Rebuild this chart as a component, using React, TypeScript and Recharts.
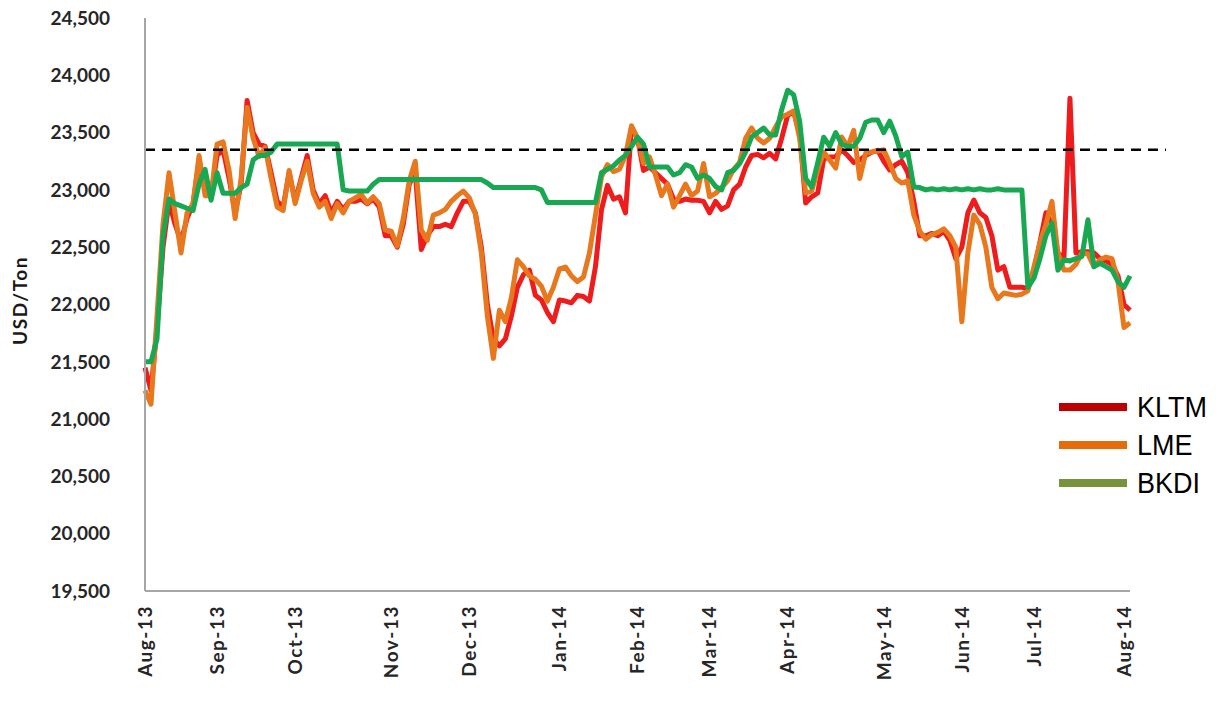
import React from 'react';
import { LineChart, Line, XAxis, YAxis, ReferenceLine } from 'recharts';

// Month labels on the category axis and the point index where each sits
const monthLabels = ['Aug-13', 'Sep-13', 'Oct-13', 'Nov-13', 'Dec-13', 'Jan-14', 'Feb-14', 'Mar-14', 'Apr-14', 'May-14', 'Jun-14', 'Jul-14', 'Aug-14'];
const monthTickIndex = [0, 12, 25, 41, 54, 69, 82, 94, 107, 123, 136, 148, 163];

const yTicks = [19500, 20000, 20500, 21000, 21500, 22000, 22500, 23000, 23500, 24000, 24500];

const seriesNames = ['KLTM', 'LME', 'BKDI'];
const lineColors = ['#EE1C1C', '#E8781E', '#19A852'];
const legendColors = ['#C00000', '#E46C0A', '#77933C'];

const threshold = 23350;
const thresholdEndIndex = 170;

const kltm = [
  21450, 21250, 21800, 22500, 22900, 22700, 22550, 22750, 22880, 23250,
  23000, 22950, 23300, 23350, 23100, 22800, 23050, 23780, 23500, 23400,
  23380, 23150, 22900, 22850, 23150, 22900, 23100, 23300, 23000, 22880,
  22950, 22800, 22900, 22830, 22900, 22900, 22920, 22880, 22920, 22850,
  22600, 22600, 22500, 22700, 23050, 23150, 22480, 22600, 22680, 22680,
  22700, 22680, 22800, 22900, 22900, 22800, 22500, 22000, 21700, 21640,
  21700, 21900, 22150, 22260, 22300, 22080, 22040, 21930, 21850, 22040,
  22030, 22015, 22080, 22070, 22030, 22330, 22825, 23040, 22920, 22940,
  22800, 23550, 23450, 23170, 23200, 23150, 23100, 23050, 22920, 22900,
  22920, 22910, 22910, 22900, 22800, 22900, 22830, 22860, 23000, 23050,
  23200, 23300, 23310, 23280, 23320, 23270, 23450, 23650, 23680, 23500,
  22886, 22940, 22973, 23270, 23287, 23290, 23348, 23300, 23240, 23260,
  23300, 23330, 23345, 23250, 23174, 23220, 23250, 23150, 22900, 22600,
  22600, 22620, 22600, 22640, 22560, 22400, 22500, 22800, 22912, 22800,
  22760, 22600, 22300, 22330, 22150, 22150, 22150, 22140, 22300, 22540,
  22800, 22700, 22450, 22400, 23800, 22450, 22460, 22460, 22450, 22400,
  22380, 22350, 22250, 22000, 21950,
];

const lme = [
  21250, 21130, 21900, 22700, 23150, 22800, 22450, 22800, 22880, 23300,
  22950, 22950, 23400, 23420, 23170, 22750, 23100, 23720, 23450, 23290,
  23370, 23100, 22850, 22820, 23170, 22880, 23080, 23250, 22970, 22850,
  22900, 22750, 22880, 22800, 22900, 22930, 22960, 22886, 22940, 22880,
  22650, 22640, 22510, 22750, 23080, 23250, 22650, 22560, 22780, 22800,
  22830, 22900, 22950, 22990, 22930, 22790, 22450, 21900, 21530, 21950,
  21850, 22060, 22390, 22330, 22250, 22220, 22160, 22030, 22150, 22310,
  22327, 22250, 22200, 22240, 22450, 22780, 23113, 23220, 23160, 23180,
  23300, 23560, 23450, 23230, 23287, 23130, 22950, 23050, 22850, 22950,
  23050, 22950, 22990, 23230, 22940, 22970, 23020, 23080, 23180, 23240,
  23450, 23540, 23450, 23410, 23450, 23550, 23636, 23660, 23690, 23450,
  22973, 22990, 23174, 23330, 23260, 23190, 23462, 23374, 23520, 23100,
  23322, 23330, 23340, 23350, 23230, 23100, 23060, 23080, 22780, 22640,
  22570, 22610, 22630, 22660, 22600, 22500, 21850, 22450, 22780, 22700,
  22500, 22150, 22050, 22100, 22090, 22080, 22090, 22120, 22327, 22537,
  22700, 22900, 22450, 22300, 22300, 22350, 22450, 22440, 22330, 22390,
  22414, 22400, 22200, 21800, 21840,
];

const bkdi = [
  21500, 21500, 21700, 22600, 22920, 22880, 22860, 22840, 22820, 23050,
  23180, 22910, 23150, 22970, 22970, 22970, 23020, 23050, 23260, 23300,
  23300, 23330, 23400, 23400, 23400, 23400, 23400, 23400, 23400, 23400,
  23400, 23400, 23400, 23000, 22990, 22990, 22990, 22990, 23050, 23090,
  23090, 23090, 23090, 23090, 23090, 23090, 23090, 23090, 23090, 23090,
  23090, 23090, 23090, 23090, 23090, 23090, 23090, 23060, 23020, 23020,
  23020, 23020, 23020, 23020, 23020, 23020, 23000, 22890, 22890, 22890,
  22890, 22890, 22890, 22890, 22890, 22890, 23150, 23180, 23210, 23261,
  23300, 23380, 23460, 23400, 23200, 23200, 23200, 23200, 23130, 23150,
  23220, 23200, 23100, 23130, 23100, 23030, 23000, 23150, 23170, 23230,
  23330, 23462, 23500, 23540, 23480, 23480, 23700, 23870, 23830, 23600,
  23100, 23025, 23235, 23460, 23380, 23500, 23400, 23380, 23380, 23450,
  23590, 23610, 23610, 23500, 23600, 23470, 23290, 23330, 23025, 23020,
  23000, 23010, 23000, 23010, 23000, 23010, 23000, 23010, 23000, 23010,
  23000, 23000, 23010, 23000, 23000, 23000, 23000, 22150, 22230, 22400,
  22600, 22710, 22300, 22390, 22380, 22400, 22420, 22740, 22330, 22360,
  22330, 22300, 22200, 22150, 22250,
];

const data = kltm.map((v, i) => ({ idx: i, KLTM: v, LME: lme[i], BKDI: bkdi[i] }));

const TICK_FONT = 'Lato, "Open Sans", "DejaVu Sans", sans-serif';

const XTick = (props: any) => {
  const { x, y, payload } = props;
  const k = monthTickIndex.indexOf(payload.value);
  return (
    <text
      x={x}
      y={y}
      transform={`rotate(-90, ${x}, ${y})`}
      textAnchor="end"
      dy="0.36em"
      fontFamily={TICK_FONT}
      fontWeight={700}
      fontSize={19}
      fill="#262626"
      letterSpacing={1.5}
    >
      {k >= 0 ? monthLabels[k] : ''}
    </text>
  );
};

const YLabel = (props: any) => {
  const vb = props.viewBox || { x: 0, y: 18, width: 145, height: 573 };
  const cx = vb.x + 19;
  const cy = vb.y + vb.height / 2 - 4;
  return (
    <text
      x={cx}
      y={cy}
      transform={`rotate(-90, ${cx}, ${cy})`}
      textAnchor="middle"
      dominantBaseline="central"
      fontFamily={TICK_FONT}
      fontWeight={700}
      fontSize={19}
      letterSpacing={1.5}
      fill="#1a1a1a"
    >
      USD/Ton
    </text>
  );
};

export default function App() {
  return (
    <div style={{ position: 'absolute', left: 0, top: 0, width: 1217, height: 702, background: '#fff' }}>
      <LineChart width={1217} height={702} data={data} margin={{ top: 18, right: 87, bottom: 0, left: 0 }}>
        <XAxis
          dataKey="idx"
          type="number"
          domain={[0, 164]}
          ticks={monthTickIndex}
          interval={0}
          tick={<XTick />}
          tickLine={false}
          tickSize={0}
          tickMargin={14}
          height={111}
          axisLine={{ stroke: '#A6A6A6', strokeWidth: 2 }}
        />
        <YAxis
          type="number"
          domain={[19500, 24500]}
          ticks={yTicks}
          interval={0}
          width={145}
          tickLine={false}
          tickSize={0}
          tickMargin={35}
          axisLine={{ stroke: '#A6A6A6', strokeWidth: 2 }}
          tickFormatter={(v: number) => v.toLocaleString('en-US')}
          tick={{ fontFamily: TICK_FONT, fontWeight: 700, fontSize: 19, fill: '#262626' }}
          label={<YLabel />}
        />
        <Line type="linear" dataKey="KLTM" stroke={lineColors[0]} strokeWidth={5} dot={false} strokeLinejoin="round" isAnimationActive={false} />
        <Line type="linear" dataKey="LME" stroke={lineColors[1]} strokeWidth={5} dot={false} strokeLinejoin="round" isAnimationActive={false} />
        <Line type="linear" dataKey="BKDI" stroke={lineColors[2]} strokeWidth={5} dot={false} strokeLinejoin="round" isAnimationActive={false} />
        <ReferenceLine
          segment={[{ x: 0, y: threshold }, { x: thresholdEndIndex, y: threshold }]}
          ifOverflow="visible"
          stroke="#000"
          strokeWidth={2.5}
          strokeDasharray="10 7"
        />
      </LineChart>
      <svg width={170} height={120} style={{ position: 'absolute', left: 1050, top: 385 }}>
        {seriesNames.map((name, i) => (
          <g key={name}>
            <line x1={9} x2={77} y1={22 + i * 38} y2={22 + i * 38} stroke={legendColors[i]} strokeWidth={8} />
            <g transform={`translate(87, ${32 + i * 38}) scale(0.9, 1)`}>
              <text x={0} y={0} fontFamily='"Liberation Sans", Arial, sans-serif' fontSize={30} fill="#000">
                {name}
              </text>
            </g>
          </g>
        ))}
      </svg>
    </div>
  );
}
